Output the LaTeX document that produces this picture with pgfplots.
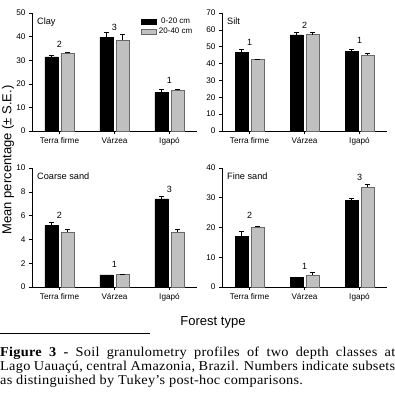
\documentclass[border=0pt]{standalone}
\usepackage{pgfplots}
\pgfplotsset{compat=1.18}
\usepackage{fontspec}
\setmainfont{Liberation Sans}
\newfontfamily\capfont[LetterSpace=2, FakeStretch=1.06]{Liberation Serif}
\definecolor{barg}{RGB}{192,192,192}
\definecolor{barge}{RGB}{105,105,105}
\pgfplotsset{panel/.style={
  scale only axis, width=165pt,
  anchor=south west,
  axis x line*=bottom, axis y line*=left,
  axis line style={-, line width=0.6pt},
  xmin=-0.5, xmax=2.5, ymin=0,
  xtick={0,1,2}, xticklabels={Terra firme, Várzea, Igapó},
  tick align=outside, major tick length=3pt,
  tick style={black, line width=0.6pt},
  ybar=3pt, bar width=13pt,
  ticklabel style={font=\fontsize{8.2}{9}\selectfont},
  /pgf/number format/assume math mode=true,
  enlargelimits=false, clip=false,
  error bars/y dir=plus, error bars/y explicit,
  error bars/error bar style={line width=0.5pt, black},
  error bars/error mark options={rotate=90, mark size=2.5pt, line width=0.5pt, black},
}, 
blk/.style={fill=black, draw=black, line width=0.5pt},
gry/.style={fill=barg, draw=barge, line width=0.5pt},
}
\newcommand{\sig}{\fontsize{9}{10}\selectfont}
\newcommand{\ttl}{\fontsize{9.2}{10}\selectfont}
\hyphenpenalty=10000
\emergencystretch=20pt
\begin{document}
\begin{tikzpicture}
\useasboundingbox (0pt,0pt) rectangle (395pt,-393pt);
% Clay
\begin{axis}[panel, at={(32pt,-131pt)}, height=118pt, ymax=50, ytick={0,10,...,50},
  legend style={draw=none, fill=none, at={(rel axis cs:0.985,0.975)}, anchor=north east,
    font=\fontsize{8}{8.5}\selectfont, row sep=-1.5pt, inner sep=0pt,
    /tikz/every even column/.append style={column sep=3pt}}]
\addplot[blk, legend image code/.code={\draw[fill=black,draw=black] (0pt,-2.5pt) rectangle (15pt,2.5pt);}] coordinates {(0,31.4) +- (0,0.7) (1,39.7) +- (0,2.0) (2,16.5) +- (0,1.1)};
\addplot[gry, legend image code/.code={\draw[fill=barg,draw=barge] (0pt,-2.5pt) rectangle (15pt,2.5pt);}] coordinates {(0,32.9) +- (0,0.6) (1,38.4) +- (0,2.5) (2,17.2) +- (0,0.7)};
\legend{0-20 cm, 20-40 cm}
\node[font=\sig] at (axis cs:0,36.7) {2};
\node[font=\sig] at (axis cs:1,43.9) {3};
\node[font=\sig] at (axis cs:2,21.3) {1};
\node[font=\ttl, anchor=north west] at (rel axis cs:0.01,0.99) {Clay};
\end{axis}
% Silt
\begin{axis}[panel, at={(222pt,-131pt)}, height=118pt, ymax=70, ytick={0,10,...,70}]
\addplot[blk] coordinates {(0,46.5) +- (0,1.8) (1,57.0) +- (0,1.8) (2,47.3) +- (0,1.2)};
\addplot[gry] coordinates {(0,42.4) +- (0,0.4) (1,57.2) +- (0,1.6) (2,45.0) +- (0,1.0)};
\node[font=\sig] at (axis cs:0,52.3) {1};
\node[font=\sig] at (axis cs:1,62.7) {2};
\node[font=\sig] at (axis cs:2,53.8) {1};
\node[font=\ttl, anchor=north west] at (rel axis cs:0.01,0.99) {Silt};
\end{axis}
% Coarse sand
\begin{axis}[panel, at={(32pt,-287pt)}, height=119pt, ymax=10, ytick={0,2,...,10}]
\addplot[blk] coordinates {(0,5.18) +- (0,0.26) (1,1.01) +- (0,0) (2,7.41) +- (0,0.2)};
\addplot[gry] coordinates {(0,4.62) +- (0,0.23) (1,1.04) +- (0,0) (2,4.62) +- (0,0.23)};
\node[font=\sig] at (axis cs:0,6.0) {2};
\node[font=\sig] at (axis cs:1,1.9) {1};
\node[font=\sig] at (axis cs:2,8.2) {3};
\node[font=\ttl, anchor=north west] at (rel axis cs:0.01,0.99) {Coarse sand};
\end{axis}
% Fine sand
\begin{axis}[panel, at={(222pt,-287pt)}, height=119pt, ymax=40, ytick={0,10,...,40}]
\addplot[blk] coordinates {(0,17.0) +- (0,1.7) (1,3.2) +- (0,0.2) (2,29.2) +- (0,0.8)};
\addplot[gry] coordinates {(0,20.1) +- (0,0.3) (1,3.9) +- (0,0.9) (2,33.6) +- (0,0.9)};
\node[font=\sig] at (axis cs:0,24.1) {2};
\node[font=\sig] at (axis cs:1,6.8) {1};
\node[font=\sig] at (axis cs:2,36.9) {3};
\node[font=\ttl, anchor=north west] at (rel axis cs:0.01,0.99) {Fine sand};
\end{axis}
\node[rotate=90, font=\fontsize{13}{14}\selectfont] at (8pt,-160pt) {Mean percentage (± S.E.)};
\node[font=\fontsize{13}{14}\selectfont] at (213pt,-322pt) {Forest type};
\draw[line width=0.8pt] (0pt,-333pt) -- (150pt,-333pt);
\node[anchor=north west, inner sep=0pt, text width=395pt, align=justify,
  font=\capfont\fontsize{13.5}{14}\selectfont] at (0pt,-347pt)
  {\textbf{Figure 3 -} Soil granulometry profiles of two depth classes at\linebreak
   Lago Uauaçú, central Amazonia, Brazil. Numbers indicate subsets\linebreak
   as distinguished by Tukey’s post-hoc comparisons.};
\end{tikzpicture}
\end{document}
